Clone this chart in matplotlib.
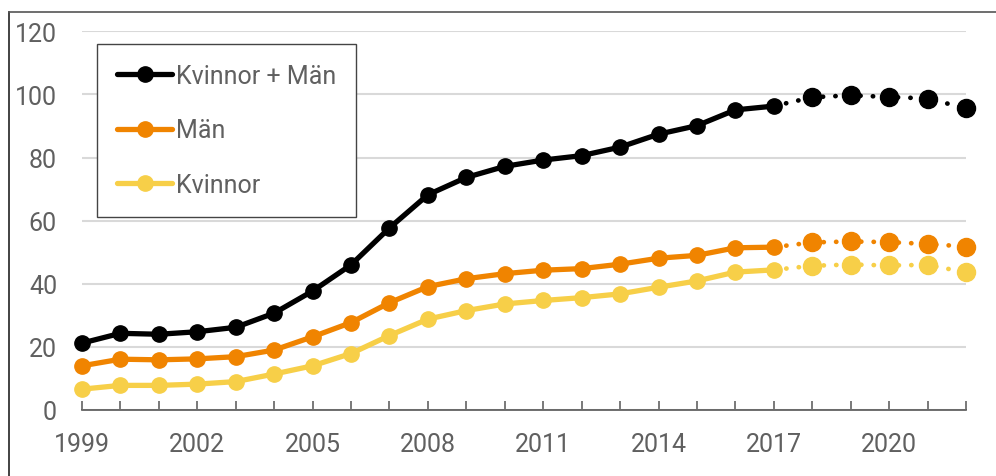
import matplotlib
matplotlib.use("Agg")
import matplotlib.pyplot as plt
from matplotlib.lines import Line2D

plt.rcParams['font.family'] = ['Roboto', 'DejaVu Sans']

BLACK = '#000000'
ORANGE = '#F08400'
YELLOW = '#F7CF48'
GRAY_TEXT = '#606060'

years = list(range(1999, 2023))
last_actual = 2017  # solid up to here, dotted after

total = [21.2, 24.3, 24.0, 24.8, 26.2, 30.7, 37.7, 46.0, 57.7, 68.2, 73.7, 77.2,
         79.2, 80.6, 83.3, 87.4, 90.1, 95.1, 96.3, 99.1, 99.7, 99.2, 98.7, 95.6]
men = [14.0, 16.1, 15.9, 16.2, 16.9, 19.0, 23.2, 27.7, 34.0, 39.1, 41.6, 43.2,
       44.3, 44.8, 46.2, 48.1, 49.0, 51.4, 51.6, 53.1, 53.4, 53.2, 52.6, 51.8]
women = [6.6, 7.8, 7.8, 8.2, 9.0, 11.4, 14.0, 17.9, 23.6, 28.8, 31.5, 33.6,
         34.7, 35.6, 36.8, 38.9, 40.9, 43.7, 44.4, 45.7, 46.1, 45.8, 46.0, 43.6]

series = [("Kvinnor + Män", total, BLACK),
          ("Män", men, ORANGE),
          ("Kvinnor", women, YELLOW)]

fig = plt.figure(figsize=(9.96, 4.77), dpi=100)
ax = fig.add_axes([82 / 996, 1 - 411 / 477, 884 / 996, (411 - 32.3) / 477])

cut = years.index(last_actual) + 1
for label, vals, col in series:
    ax.plot(years[:cut], vals[:cut], color=col, lw=3.8, marker='o', ms=11,
            label=label, clip_on=False, zorder=3, solid_capstyle='round')
    ax.plot(years[cut - 1:], vals[cut - 1:], color=col, lw=3.4,
            linestyle=(0, (0.05, 2.6)), dash_capstyle='round',
            clip_on=False, zorder=3)
    ax.plot(years[cut:], vals[cut:], color=col, lw=0, marker='o', ms=13,
            clip_on=False, zorder=4)

ax.set_xlim(1999, 2022)
ax.set_ylim(0, 120)
ax.set_yticks(range(0, 121, 20))
ax.set_xticks(years, minor=True)
ax.set_xticks(years[::3])
ax.yaxis.grid(True, color='#d9d9d9', lw=1.5)
ax.set_axisbelow(True)

for s in ['left', 'right', 'top']:
    ax.spines[s].set_visible(False)
ax.spines['bottom'].set_color('#555555')
ax.spines['bottom'].set_linewidth(1.2)

ax.tick_params(axis='y', length=0, pad=18, labelsize=18, labelcolor=GRAY_TEXT)
ax.tick_params(axis='x', which='both', direction='in', length=6.5,
               width=1.1, color='#555555')
ax.tick_params(axis='x', which='major', pad=16, labelsize=18,
               labelcolor=GRAY_TEXT)

leg = ax.legend(loc='upper left', bbox_to_anchor=(0.017, 0.9665),
                fontsize=18, frameon=True, fancybox=False, framealpha=1,
                edgecolor='#444444', handlelength=2.2, handletextpad=0.15,
                labelspacing=1.22, borderpad=0.8, borderaxespad=0)
leg.get_frame().set_linewidth(1.0)
for t in leg.get_texts():
    t.set_color(GRAY_TEXT)

# outer frame of the picture
fig.add_artist(Line2D([9 / 996, 9 / 996], [0, 1 - 13 / 477],
                      transform=fig.transFigure, color='#222222', lw=1.2))
fig.add_artist(Line2D([9 / 996, 1], [1 - 13 / 477, 1 - 13 / 477],
                      transform=fig.transFigure, color='#555555', lw=1.2))

fig.savefig('out.png', dpi=100)
